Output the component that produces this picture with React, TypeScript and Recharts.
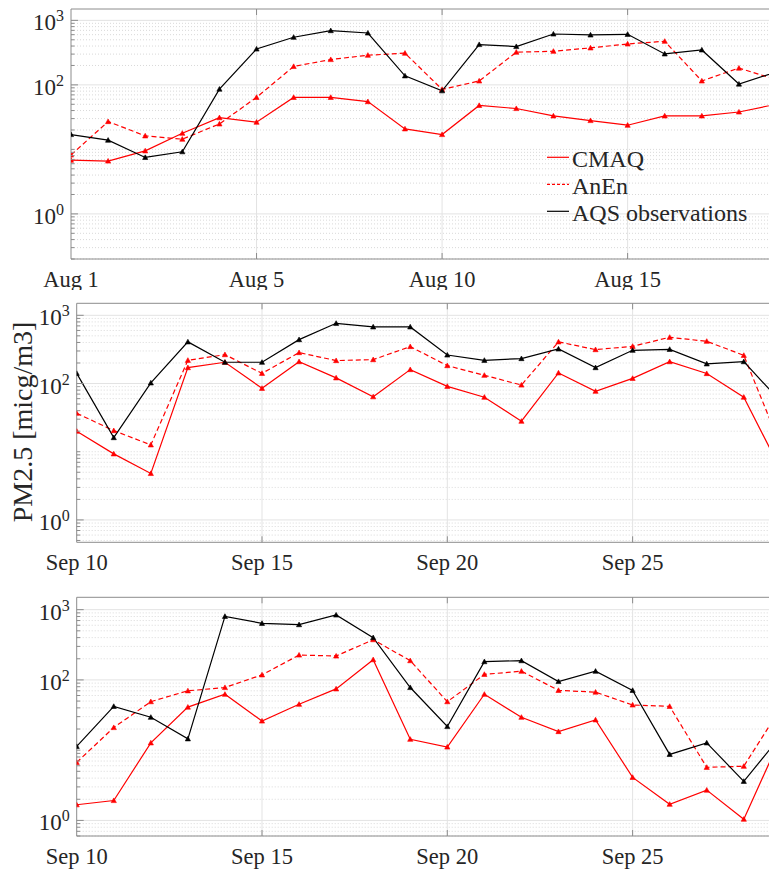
import { LineChart, Line, XAxis, YAxis, ReferenceLine, Legend } from 'recharts'

// day offsets from the first date of each panel
const DAYS = [0, 1, 2, 3, 4, 5, 6, 7, 8, 9, 10, 11, 12, 13, 14, 15, 16, 17, 18, 19]
const DAY_TICKS = [0, 5, 10, 15]
const AUG_LABELS = ['Aug 1', 'Aug 5', 'Aug 10', 'Aug 15']
const SEP_LABELS = ['Sep 10', 'Sep 15', 'Sep 20', 'Sep 25']

// PM2.5 [micg/m3]
const AUG_CMAQ = [6.8, 6.6, 9.5, 17.8, 31, 26.4, 64, 64, 55, 20.8, 17, 48, 43, 33, 28, 23.7, 33, 33, 38, 50]
const AUG_ANEN = [8.2, 27, 16.2, 14.4, 24.8, 64, 193, 247, 288, 310, 85, 115, 321, 332, 374, 431, 474, 115, 182, 121]
const AUG_AQS = [17, 13.9, 7.5, 9.2, 86, 360, 547, 693, 637, 138, 81, 422, 393, 615, 594, 608, 302, 348, 103, 158]

const SEP_A_CMAQ = [20, 9.3, 4.8, 171, 205, 85, 209, 121, 64, 160, 91, 63, 28, 143, 77, 119, 209, 140, 63, 5.4]
const SEP_A_ANEN = [36.6, 20.4, 12.6, 219, 265, 141, 284, 217, 224, 348, 183, 132, 95, 408, 314, 351, 476, 416, 259, 12]
const SEP_A_AQS = [141, 16.1, 102, 408, 205, 205, 440, 763, 676, 676, 262, 219, 232, 321, 171, 307, 317, 194, 209, 54]

const SEP_B_CMAQ = [1.67, 1.92, 12.7, 41, 62.5, 26, 45, 74.5, 194, 14.3, 11.1, 62.5, 29.4, 18.4, 27, 4.1, 1.7, 2.7, 1.04, 15.3]
const SEP_B_ANEN = [6.7, 21, 49, 70, 78, 118, 226, 219, 374, 188, 49, 120, 133, 71, 67, 44, 42, 5.7, 5.9, 40]
const SEP_B_AQS = [11.3, 42, 29.4, 14.5, 803, 639, 612, 840, 400, 78, 21.7, 182, 188, 95, 133, 71, 8.7, 12.7, 3.6, 16]

// log axis ticks
const LABELED_DECADES = [1, 100, 1000]
const EXPONENTS = ['0', '2', '3']
const DECADES = [0.1, 1, 10, 100]
const MINOR_STEPS = [1, 2, 3, 4, 5, 6, 7, 8, 9]
const Y_MAX = 1500

const SERIES = [
  { key: 'cmaq', name: 'CMAQ', color: '#ff0000', dash: undefined },
  { key: 'anen', name: 'AnEn', color: '#ff0000', dash: '5 3' },
  { key: 'aqs', name: 'AQS observations', color: '#000000', dash: undefined },
]

const FONT = "'Liberation Serif', 'Times New Roman', serif"
const TEXT = '#262626'
const AXIS = '#8c8c8c'
const GRID = '#e3e3e3'
const MINOR_GRID = '#d9d9d9'
const serif = { fontFamily: FONT }

const rows = (cmaq: number[], anen: number[], aqs: number[]) =>
  DAYS.map((d, i) => ({ day: d, cmaq: cmaq[i], anen: anen[i], aqs: aqs[i] }))

const logTicks = (min: number) => {
  const out: number[] = []
  DECADES.forEach((dec) => MINOR_STEPS.forEach((m) => {
    const v = +(dec * m).toPrecision(3)
    if (v >= min && v <= Y_MAX) out.push(v)
  }))
  out.push(1000)
  return out
}

const Triangle = (props: any) => {
  const { cx, cy, color, index } = props
  if (cx == null || cy == null) return <g key={index} />
  const s = 2.6
  return (
    <path
      key={index}
      d={`M${cx},${cy - s} L${cx + s},${cy + s * 0.8} L${cx - s},${cy + s * 0.8} Z`}
      fill={color}
      stroke={color}
      strokeWidth={0.6}
    />
  )
}

const DayTick = (props: any) => {
  const { x, y, payload, labels, plotH } = props
  const idx = DAY_TICKS.indexOf(payload.value)
  return (
    <g>
      {idx > 0 && (
        <>
          <line x1={x} x2={x} y1={y} y2={y - 6} stroke={AXIS} />
          <line x1={x} x2={x} y1={y - plotH} y2={y - plotH + 6} stroke={AXIS} />
        </>
      )}
      <text x={x} y={y + 27.5} textAnchor="middle" fontSize={22.5} style={serif} fill={TEXT}>
        {labels[idx]}
      </text>
    </g>
  )
}

const LogTick = (props: any) => {
  const { x, y, payload } = props
  const k = LABELED_DECADES.indexOf(payload.value)
  const major = k >= 0
  return (
    <g>
      <line x1={x} x2={x + (major ? 7 : 3.5)} y1={y} y2={y} stroke={AXIS} />
      {major && (
        <text x={x - 7} y={y + 10} textAnchor="end" fontSize={23} style={serif} fill={TEXT}>
          <tspan>10</tspan>
          <tspan dy={-9} fontSize={16}>{EXPONENTS[k]}</tspan>
        </text>
      )}
    </g>
  )
}

const LegendBox = () => (
  <svg width={215} height={90} style={{ display: 'block' }}>
    {SERIES.map((s, i) => (
      <g key={s.key}>
        <line x1={0} x2={22} y1={17.3 + 27 * i} y2={17.3 + 27 * i} stroke={s.color} strokeWidth={1.2} strokeDasharray={s.dash ? '3 2' : undefined} />
        <text x={25} y={26.7 + 27 * i} fontSize={24} style={serif} fill={TEXT}>{s.name}</text>
      </g>
    ))}
  </svg>
)

const YTitle = () => (
  <text x={32} y={132} transform="rotate(-90 32 132)" textAnchor="middle" fontSize={28} style={serif} fill={TEXT}>
    PM2.5 [micg/m3]
  </text>
)

interface PanelProps {
  top: number
  height: number
  plotTop: number
  axisH: number
  left: number
  xMax: number
  yMin: number
  labels: string[]
  data: any[]
  legend?: boolean
  yTitle?: boolean
}

function Panel({ top, height, plotTop, axisH, left, xMax, yMin, labels, data, legend, yTitle }: PanelProps) {
  const ticks = logTicks(yMin)
  const plotH = height - plotTop - axisH
  return (
    <div style={{ position: 'absolute', left: 0, top }}>
      <LineChart width={769} height={height} data={data} margin={{ top: plotTop, right: 0, bottom: 0, left: 0 }}>
        {ticks.map((v) => (
          <ReferenceLine
            key={`g${v}`}
            y={v}
            stroke={LABELED_DECADES.includes(v) ? GRID : MINOR_GRID}
            strokeDasharray={LABELED_DECADES.includes(v) ? undefined : '1 2'}
          />
        ))}
        {DAY_TICKS.slice(1).map((d) => (
          <ReferenceLine key={`v${d}`} x={d} stroke={GRID} />
        ))}
        <ReferenceLine y={Y_MAX} stroke={AXIS} />
        <XAxis
          dataKey="day"
          type="number"
          domain={[0, xMax]}
          allowDataOverflow
          ticks={DAY_TICKS}
          height={axisH}
          tickSize={0}
          tickMargin={0}
          tickLine={false}
          axisLine={{ stroke: AXIS }}
          interval={0}
          tick={<DayTick labels={labels} plotH={plotH} />}
        />
        <YAxis
          type="number"
          scale="log"
          domain={[yMin, Y_MAX]}
          allowDataOverflow
          ticks={ticks}
          width={left}
          tickSize={0}
          tickMargin={0}
          tickLine={false}
          axisLine={{ stroke: AXIS }}
          interval={0}
          tick={<LogTick />}
          label={yTitle ? <YTitle /> : undefined}
        />
        {SERIES.map((s) => (
          <Line
            key={s.key}
            type="linear"
            dataKey={s.key}
            name={s.name}
            stroke={s.color}
            strokeWidth={1.2}
            strokeDasharray={s.dash}
            dot={(p: any) => <Triangle {...p} key={`${s.key}-${p.index}`} color={s.color} />}
            isAnimationActive={false}
          />
        ))}
        {legend && (
          <Legend
            layout="vertical"
            align="center"
            verticalAlign="middle"
            content={<LegendBox />}
            wrapperStyle={{ left: 547, top: 140, width: 215, height: 90 }}
          />
        )}
      </LineChart>
    </div>
  )
}

export default function App() {
  return (
    <div style={{ position: 'absolute', left: 0, top: 0, width: 769, height: 871, overflow: 'hidden', background: '#fff' }}>
      <Panel top={0} height={290} plotTop={9} axisH={31} left={71} xMax={18.81} yMin={0.2}
        labels={AUG_LABELS} data={rows(AUG_CMAQ, AUG_ANEN, AUG_AQS)} legend />
      <Panel top={290} height={290} plotTop={13.3} axisH={37.7} left={76.7} xMax={18.68} yMin={0.47}
        labels={SEP_LABELS} data={rows(SEP_A_CMAQ, SEP_A_ANEN, SEP_A_AQS)} yTitle />
      <Panel top={580} height={291} plotTop={17.3} axisH={35} left={76.7} xMax={18.68} yMin={0.6}
        labels={SEP_LABELS} data={rows(SEP_B_CMAQ, SEP_B_ANEN, SEP_B_AQS)} />
    </div>
  )
}
